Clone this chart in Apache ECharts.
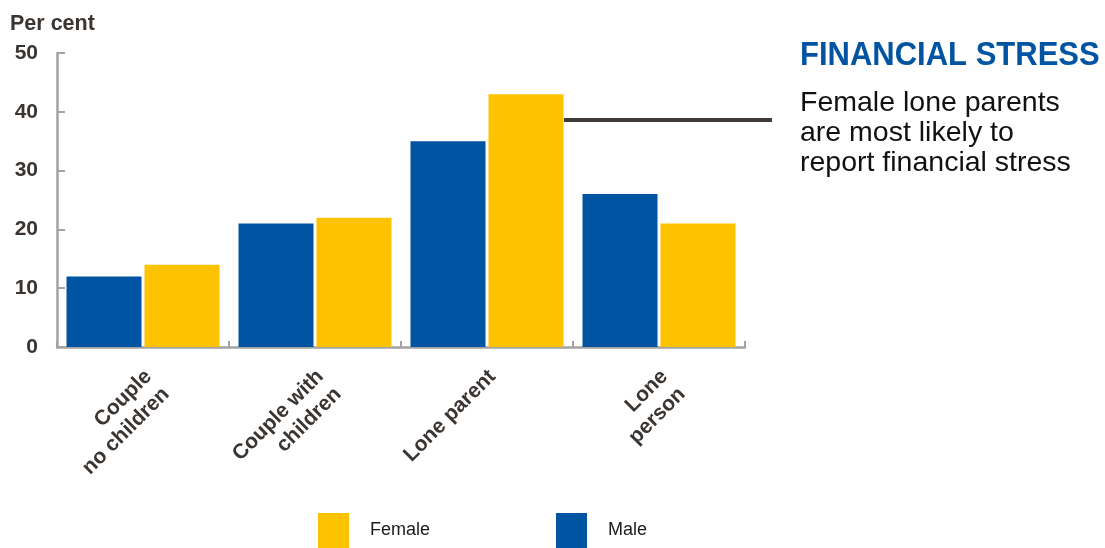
<!DOCTYPE html>
<html>
<head>
<meta charset="utf-8">
<script src="https://cdn.jsdelivr.net/npm/echarts@6/dist/echarts.min.js"></script>
<style>
html,body{margin:0;padding:0;background:#fff;}
#chart{width:1105px;height:548px;}
</style>
</head>
<body>
<div id="chart"></div>
<script>
const categories = ['Couple\nno children', 'Couple with\nchildren', 'Lone parent', 'Lone\nperson'];
const maleValues = [12, 21, 35, 26];
const femaleValues = [14, 22, 43, 21];
const yTicks = [0, 10, 20, 30, 40, 50];
const titleText = 'FINANCIAL STRESS';
const subtitleText = 'Female lone parents\nare most likely to\nreport financial stress';
const yAxisName = 'Per cent';

const BLUE = '#0054a2';
const YELLOW = '#fdc300';
const AXIS = '#a3a3a3';
const LABEL = '#3b3532';
const FONT = '"Liberation Sans", Arial, sans-serif';

const chart = echarts.init(document.getElementById('chart'), null, {renderer: 'canvas'});
chart.setOption({
  animation: false,
  backgroundColor: '#ffffff',
  grid: {left: 57, right: 360, top: 53, bottom: 201, containLabel: false},
  legend: {
    data: ['Female', 'Male'],
    left: 318, top: 513,
    padding: 0,
    icon: 'rect',
    itemWidth: 31, itemHeight: 35,
    itemGap: 126,
    textStyle: {fontFamily: FONT, fontSize: 18, color: '#1a1a1a', padding: [0, 0, 0, 16]}
  },
  xAxis: {
    type: 'category',
    data: categories,
    axisLine: {lineStyle: {color: AXIS, width: 2.5}},
    axisTick: {show: true, inside: true, length: 6, lineStyle: {color: AXIS, width: 2}},
    axisLabel: {
      rotate: 45,
      align: 'right',
      verticalAlign: 'top',
      margin: 14,
      padding: [0, 5, 0, 0],
      interval: 0,
      fontFamily: FONT, fontSize: 21, fontWeight: 'bold', color: LABEL, lineHeight: 25
    }
  },
  yAxis: {
    type: 'value',
    min: yTicks[0], max: yTicks[yTicks.length - 1], interval: 10,
    axisLine: {show: true, lineStyle: {color: AXIS, width: 2.5}},
    axisTick: {show: true, inside: true, length: 8, lineStyle: {color: AXIS, width: 2}},
    splitLine: {show: false},
    axisLabel: {margin: 19, fontFamily: FONT, fontSize: 21, fontWeight: 'bold', color: LABEL}
  },
  series: [
    {name: 'Male', type: 'bar', data: maleValues, barWidth: 75, barGap: '4%', itemStyle: {color: BLUE}},
    {name: 'Female', type: 'bar', data: femaleValues, barWidth: 75, barGap: '4%', itemStyle: {color: YELLOW}}
  ],
  graphic: [
    {type: 'text', left: 10, top: 12, scaleY: 1.06, style: {text: yAxisName, fontFamily: FONT, fontSize: 21.5, fontWeight: 'bold', fill: LABEL}},
    {type: 'text', left: 800, top: 39, scaleY: 1.1, style: {text: titleText, fontFamily: FONT, fontSize: 31, fontWeight: 'bold', fill: BLUE}},
    {type: 'text', left: 800, top: 88, style: {text: subtitleText, fontFamily: FONT, fontSize: 28.5, lineHeight: 30, fill: '#111111'}},
    {type: 'line', shape: {x1: 564, y1: 120, x2: 772, y2: 120}, style: {stroke: '#403a37', lineWidth: 4}}
  ]
});
</script>
</body>
</html>
